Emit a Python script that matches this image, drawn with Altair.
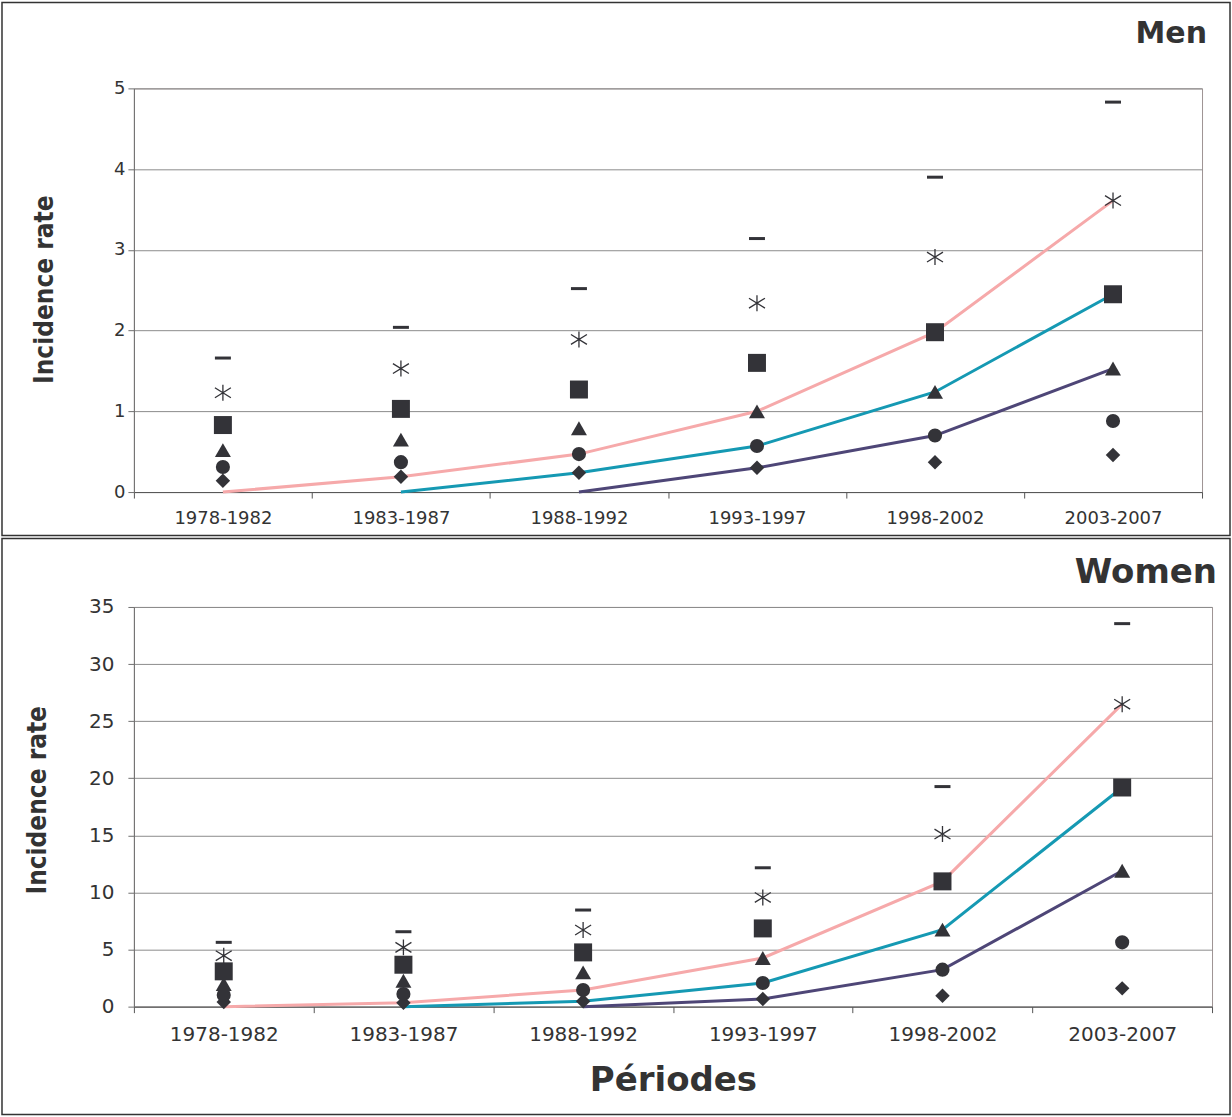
import altair as alt
import pandas as pd

periods = ["1978-1982", "1983-1987", "1988-1992", "1993-1997", "1998-2002", "2003-2007"]
panel_titles = ["Men", "Women"]

# Men markers (one value per period)
men_diamond = [0.14, 0.19, 0.24, 0.30, 0.37, 0.46]
men_circle = [0.31, 0.37, 0.47, 0.57, 0.70, 0.88]
men_triangle = [0.52, 0.65, 0.79, 1.00, 1.24, 1.53]
men_square = [0.83, 1.03, 1.27, 1.60, 1.98, 2.45]
men_star = [1.23, 1.53, 1.89, 2.34, 2.91, 3.61]
men_dash = [1.66, 2.04, 2.52, 3.14, 3.90, 4.83]
# Men lines
men_pink = [0.0, 0.19, 0.47, 1.00, 1.98, 3.61]
men_teal = [0.0, 0.24, 0.57, 1.24, 2.45]
men_purple = [0.0, 0.30, 0.70, 1.53]

# Women markers
women_diamond = [0.40, 0.33, 0.47, 0.67, 0.96, 1.60]
women_circle = [1.02, 1.11, 1.46, 2.07, 3.24, 5.63]
women_triangle = [1.98, 2.27, 3.00, 4.26, 6.74, 11.90]
women_square = [3.09, 3.67, 4.75, 6.85, 10.97, 19.19]
women_star = [4.46, 5.19, 6.71, 9.56, 15.11, 26.49]
women_dash = [5.63, 6.56, 8.46, 12.16, 19.27, 33.54]
# Women lines
women_pink = [0.0, 0.33, 1.46, 4.26, 10.97, 26.49]
women_teal = [0.0, 0.47, 2.07, 6.74, 19.19]
women_purple = [0.0, 0.67, 3.24, 11.90]

MARK = "#333338"
TXT = "#333333"
LINE_NAMES = ["pink", "teal", "purple"]
LINE_COLORS = ["#f6a9aa", "#1599b3", "#4e4677"]
STAR_PATH = "M0,-1L0,1M-1,-0.62L1,0.62M-1,0.62L1,-0.62"
DASH_PATH = "M-1,0L1,0"


def panel(title, markers, lines, ymax, ystep, w, h, cfg):
    xenc = alt.X(
        "period:N",
        sort=periods,
        bandPosition=0.5,
        scale=alt.Scale(type="band", domain=periods, paddingInner=0, paddingOuter=0),
        axis=alt.Axis(
            tickBand="extent",
            title=cfg["xtitle"],
            labelAngle=0,
            labelFont="DejaVu Sans",
            labelFontSize=cfg["xfs"],
            labelColor=TXT,
            labelPadding=cfg["xlp"],
            tickSize=6,
            tickColor="#555555",
            domainColor="#555555",
            grid=False,
            titleFont="DejaVu Sans",
            titleFontSize=34,
            titleFontWeight="bold",
            titleColor=TXT,
            titleBaseline="alphabetic",
            titleAlign="center",
            titleX=w / 2,
            titleY=84,
        ),
    )
    yenc = alt.Y(
        "value:Q",
        scale=alt.Scale(domain=[0, ymax], nice=False, zero=True),
        axis=alt.Axis(
            values=list(range(0, ymax + 1, ystep)),
            format="d",
            title="Incidence rate",
            grid=True,
            gridColor="#8c8c8c",
            gridWidth=1,
            tickSize=6,
            tickColor="#6e6e6e",
            domainColor="#6e6e6e",
            labelFont="DejaVu Sans",
            labelFontSize=cfg["yfs"],
            labelColor=TXT,
            labelPadding=cfg["ylp"],
            titleFont="DejaVu Sans Condensed",
            titleFontSize=26,
            titleFontWeight="bold",
            titleColor=TXT,
            titleAngle=270,
            titleBaseline="alphabetic",
            titleAlign="center",
            titleX=cfg["ytx"],
            titleY=cfg["yty"],
        ),
    )

    # line data (cohort lines start at later periods)
    rows = []
    for name, vals in zip(LINE_NAMES, lines):
        start = len(periods) - len(vals)
        for p, v in zip(periods[start:], vals):
            rows.append({"series": name, "period": p, "value": v})
    line_df = pd.DataFrame(rows)

    def mdf(vals):
        return pd.DataFrame({"period": periods, "value": vals})

    frame = alt.Chart(pd.DataFrame({"f": [0]})).mark_rect(
        fill="white", fillOpacity=0, stroke="#333333", strokeWidth=1.5
    ).encode(
        x=alt.value(cfg["fx"]), x2=alt.value(cfg["fx2"]),
        y=alt.value(cfg["fy"]), y2=alt.value(cfg["fy2"]),
    )

    line_layer = alt.Chart(line_df).mark_line(strokeWidth=3).encode(
        x=xenc, y=yenc,
        color=alt.Color("series:N", scale=alt.Scale(domain=LINE_NAMES, range=LINE_COLORS), legend=None),
        detail="series:N",
    )

    layers = [frame, line_layer]
    specs = [
        ("diamond", "diamond", 210, True, 1),
        ("circle", "circle", 200, True, 1),
        ("triangle", "triangle-up", 256, True, 1),
        ("square", "square", 324, True, 1),
        ("star", STAR_PATH, 256, False, 1.3),
        ("dash", DASH_PATH, 256, False, 3),
    ]
    for key, shape, size, filled, sw in specs:
        if filled:
            m = alt.Chart(mdf(markers[key])).mark_point(
                shape=shape, size=size, filled=True, color=MARK, opacity=1
            )
        else:
            m = alt.Chart(mdf(markers[key])).mark_point(
                shape=shape, size=size, filled=False, stroke=MARK, strokeWidth=sw, opacity=1
            )
        layers.append(m.encode(x=alt.X("period:N", sort=periods, bandPosition=0.5), y="value:Q"))

    label = alt.Chart(pd.DataFrame({"t": [title]})).mark_text(
        align="right", baseline="alphabetic", font="DejaVu Sans", fontWeight="bold",
        fontSize=cfg["tfs"], color=TXT
    ).encode(x=alt.value(cfg["tx"]), y=alt.value(cfg["ty"]), text="t:N")
    layers.append(label)

    return alt.layer(*layers).properties(width=w, height=h)


men = panel(
    panel_titles[0],
    {"diamond": men_diamond, "circle": men_circle, "triangle": men_triangle,
     "square": men_square, "star": men_star, "dash": men_dash},
    [men_pink, men_teal, men_purple],
    5, 1, 1069, 404,
    dict(xtitle=None, xfs=18, xlp=11, yfs=18, ylp=3, ytx=-81, yty=201,
         fx=-132, fx2=1097, fy=-86, fy2=447.5, tfs=30, tx=1074, ty=-45),
)
women = panel(
    panel_titles[1],
    {"diamond": women_diamond, "circle": women_circle, "triangle": women_triangle,
     "square": women_square, "star": women_star, "dash": women_dash},
    [women_pink, women_teal, women_purple],
    35, 5, 1079, 400,
    dict(xtitle="Périodes", xfs=20, xlp=12, yfs=20, ylp=14, ytx=-88, yty=193,
         fx=-132, fx2=1097, fy=-68.5, fy2=508, tfs=34, tx=1084, ty=-24),
)

chart = alt.vconcat(men, women, spacing=0).properties(
    padding=0, background="white"
).configure_view(stroke="#9e9494", strokeWidth=1)

chart.save("out.html", embed_options={"renderer": "svg", "actions": False})
